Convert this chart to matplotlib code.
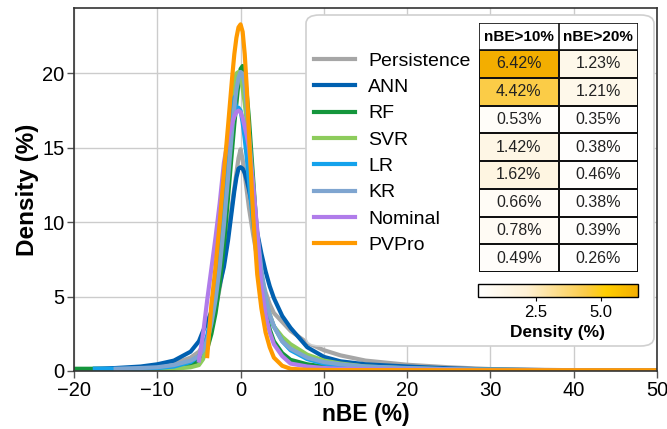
import numpy as np
import matplotlib
matplotlib.use('Agg')
import matplotlib.pyplot as plt
from matplotlib.patches import FancyBboxPatch
from matplotlib.colors import LinearSegmentedColormap, Normalize

plt.rcParams['font.family'] = ['Liberation Sans', 'DejaVu Sans']

# nBE grid (%) and density (%), nan = curve not drawn
nbe = [-20, -17.5, -15, -12, -10, -8, -6, -5, -4.5, -4, -3.5, -3, -2.5, -2, -1.5, -1, -0.75, -0.5, -0.25,
       0, 0.25, 0.5, 0.75, 1, 1.5, 2, 2.5, 3, 3.5, 4, 5, 6, 8, 10, 12, 15, 20, 25, 30, 40, 50]
nan = np.nan
persistence = [nan, nan, 0.1, 0.2, 0.3, 0.5, 0.9, 1.3, 1.7, 2.3, 3.1, 4.2, 5.6, 7.3, 9.2, 11.3, 12.3, 13.3, 14.3,
               14.9, 14.2, 13.2, 12.1, 11.0, 9.2, 7.6, 6.3, 5.3, 4.5, 3.9, 3.3, 2.7, 1.9, 1.4, 1.05, 0.7, 0.42, 0.25, 0.13, 0.05, 0.02]
ann = [nan, 0.15, 0.2, 0.3, 0.45, 0.7, 1.3, 2.0, 2.7, 3.3, 4.0, 4.8, 5.8, 7.0, 8.8, 11.0, 12.1, 13.0, 13.6,
       13.7, 13.6, 13.3, 12.8, 12.2, 10.8, 9.3, 7.9, 6.7, 5.7, 4.9, 3.7, 2.9, 1.6, 0.95, 0.65, 0.45, 0.3, 0.18, 0.1, 0.04, 0.02]
rf = [0.15, 0.15, 0.12, 0.12, 0.15, 0.2, 0.4, 0.7, 1.0, 1.5, 2.5, 3.9, 5.9, 8.5, 11.7, 15.0, 16.6, 18.0, 19.4,
      20.3, 20.5, 19.8, 18.6, 17.0, 13.0, 9.0, 6.0, 4.0, 2.8, 2.0, 1.2, 0.75, 0.45, 0.3, 0.2, 0.15, 0.1, 0.07, 0.05, 0.03, 0.02]
svr = [nan, nan, nan, 0.1, 0.12, 0.15, 0.25, 0.4, 0.8, 1.8, 3.5, 5.8, 8.7, 12.0, 15.3, 18.3, 19.3, 20.0, 20.1,
       19.7, 19.0, 18.0, 16.7, 15.2, 11.8, 8.8, 6.5, 4.9, 3.8, 3.0, 2.3, 1.8, 1.1, 0.7, 0.5, 0.3, 0.18, 0.12, 0.08, 0.04, 0.02]
lr = [nan, 0.15, 0.15, 0.15, 0.2, 0.3, 0.6, 1.0, 1.5, 2.4, 3.8, 5.8, 8.5, 11.8, 15.3, 18.1, 18.4, 17.6, 17.7,
      17.5, 16.7, 15.6, 14.3, 12.8, 10.0, 7.8, 6.0, 4.7, 3.7, 3.0, 2.0, 1.4, 0.8, 0.5, 0.35, 0.25, 0.15, 0.1, 0.07, 0.04, 0.02]
kr = [nan, nan, 0.15, 0.2, 0.25, 0.4, 0.7, 1.0, 1.4, 2.1, 3.2, 4.8, 7.0, 9.8, 13.0, 16.3, 17.7, 18.9, 19.7,
      20.1, 20.0, 19.2, 17.8, 16.0, 12.5, 9.3, 6.8, 5.0, 3.8, 3.0, 2.0, 1.5, 0.9, 0.6, 0.45, 0.3, 0.2, 0.12, 0.08, 0.04, 0.02]
nominal = [nan, nan, nan, nan, nan, nan, nan, 0.7, 2.5, 4.8, 6.9, 9.0, 11.3, 14.0, 15.6, 16.7, 17.1, 17.4, 17.5,
           17.4, 17.0, 16.4, 15.8, 15.0, 12.5, 9.5, 5.6, 3.8, 2.6, 1.8, 1.0, 0.5, 0.3, 0.2, 0.15, 0.12, 0.1, 0.08, 0.06, 0.04, 0.03]
pvpro = [nan, nan, nan, nan, nan, nan, nan, nan, nan, 1.0, 4.5, 7.0, 10.0, 13.3, 16.5, 19.8, 21.3, 22.4, 23.1,
         23.3, 22.8, 21.3, 19.0, 16.0, 10.5, 6.5, 4.2, 2.6, 1.6, 0.9, 0.35, 0.15, 0.08, 0.07, 0.06, 0.06, 0.06, 0.05, 0.05, 0.05, 0.05]

labels = ['Persistence', 'ANN', 'RF', 'SVR', 'LR', 'KR', 'Nominal', 'PVPro']
colors = ['#A6A6A6', '#0060B0', '#14963C', '#8DCC5C', '#14A2EC', '#7FA5D0', '#B07CEA', '#FF9A00']
series = [persistence, ann, rf, svr, lr, kr, nominal, pvpro]

# share of points with nBE above threshold (%)
over10 = [6.42, 4.42, 0.53, 1.42, 1.62, 0.66, 0.78, 0.49]
over20 = [1.23, 1.21, 0.35, 0.38, 0.46, 0.38, 0.39, 0.26]
col_heads = ['nBE>10%', 'nBE>20%']

fig = plt.figure(figsize=(6.67, 4.29), dpi=100)
ax = fig.add_axes([74 / 667, 58 / 429, 583 / 667, 363 / 429])
ax.set_zorder(0)

for y, c, lab in zip(series, colors, labels):
    ax.plot(nbe, y, color=c, lw=3, label=lab)

ax.set_xlim(-20, 50)
ax.set_ylim(0, 24.4)
ax.set_xticks(range(-20, 51, 10))
ax.set_yticks([0, 5, 10, 15, 20])
ax.grid(True, color='#CCCCCC', lw=1)
ax.set_axisbelow(True)
ax.tick_params(labelsize=14.5, length=5, width=1, color='#555555', pad=2)
for s in ax.spines.values():
    s.set_color('#333333')
    s.set_linewidth(1.2)
ax.set_xlabel('nBE (%)', fontsize=16.5, fontweight='bold', labelpad=2)
ax.set_ylabel('Density (%)', fontsize=17.5, fontweight='bold', labelpad=2)

# rounded white box behind legend + table
box = FancyBboxPatch((306 / 667, (429 - 346) / 429), 348 / 667, 331 / 429,
                     boxstyle='round,pad=0,rounding_size=0.02', transform=fig.transFigure,
                     facecolor='white', edgecolor='#D0D0D0', lw=1.2, zorder=1)
fig.patches.append(box)

leg = fig.legend(loc='upper left', bbox_to_anchor=(314 / 667, (429 - 52) / 429), frameon=False,
                 fontsize=14, handlelength=2.1, handletextpad=0.7, labelspacing=0.45,
                 borderpad=0, borderaxespad=0)
leg.set_zorder(3)
for h in leg.get_lines():
    h.set_linewidth(3)

# heat table
cmap = LinearSegmentedColormap.from_list(
    'wy', [(0, '#FFFFFF'), (0.3, '#FEF1D6'), (0.68, '#FBCB45'), (0.8, '#FFCE00'), (1, '#F3AE00')], N=256)
norm = Normalize(vmin=0.26, vmax=6.42)
tab = fig.add_axes([479 / 667, (429 - 272) / 429, 159 / 667, 249 / 429])
tab.set_zorder(2)
vals = np.array([over10, over20]).T
n = len(labels)
ytop = 27 / 27.7
tab.pcolormesh([0, 1, 2], ytop + np.arange(n + 1), vals, cmap=cmap, norm=norm,
               edgecolors='#111111', linewidth=1.2)
tab.add_patch(plt.Rectangle((0, 0), 2, ytop, facecolor='white', edgecolor='#111111', lw=1.2))
tab.plot([1, 1], [0, ytop], color='#111111', lw=1.2)
for j, h in enumerate(col_heads):
    tab.text(j + 0.5, ytop / 2, h, ha='center', va='center', fontsize=11, fontweight='bold')
for i in range(n):
    for j in range(2):
        tab.text(j + 0.5, ytop + i + 0.5, '%.2f%%' % vals[i, j], ha='center', va='center',
                 fontsize=11.5, color='#222222')
tab.set_xlim(0, 2)
tab.set_ylim(ytop + n, 0)
tab.axis('off')

cax = fig.add_axes([478 / 667, (429 - 297) / 429, 160 / 667, 13 / 429])
cax.set_zorder(2)
cb = fig.colorbar(plt.cm.ScalarMappable(norm=norm, cmap=cmap), cax=cax, orientation='horizontal')
cb.set_ticks([2.5, 5.0])
cb.ax.tick_params(labelsize=12, length=3, pad=3)
cb.outline.set_linewidth(1)
cb.set_label('Density (%)', fontsize=12.5, fontweight='bold', labelpad=3)

fig.savefig('out.png', dpi=100)
